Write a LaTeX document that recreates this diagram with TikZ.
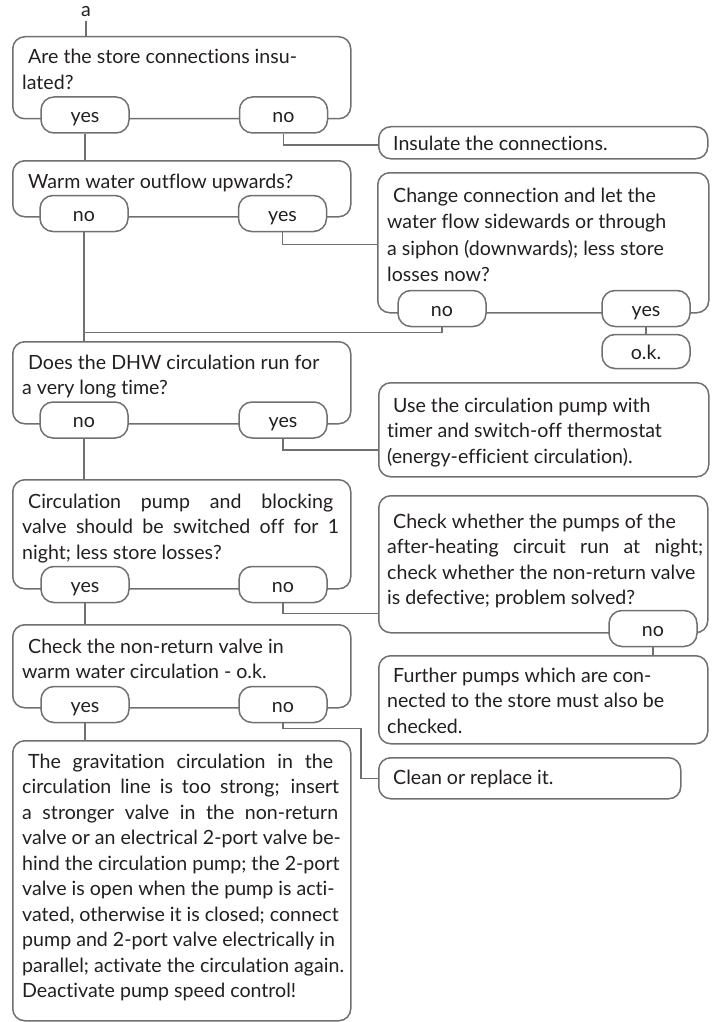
\documentclass[tikz,border=0pt]{standalone}
\usepackage{fontspec}
\setmainfont{Lato}[Ligatures={NoCommon}]
\definecolor{linegray}{RGB}{112,112,112}
\definecolor{textdark}{RGB}{35,31,32}
\newcommand{\jl}[2][318pt]{\makebox[#1][s]{#2}}
\newcommand{\ind}{\hspace*{6pt}}
\tikzset{
  box/.style={draw=linegray, line width=1.5pt, rounded corners=12pt, fill=white, inner sep=0pt, anchor=north west},
  pill/.style={draw=linegray, line width=1.5pt, rounded corners=13pt, fill=white, inner sep=0pt,
    minimum width=88pt, minimum height=36pt, text height=15pt, text depth=0pt, text=textdark,
    font=\fontsize{19.6}{25.5}\selectfont},
  txt/.style={inner sep=0pt, anchor=base west, text=textdark, font=\fontsize{19.6}{25.5}\selectfont},
  conn/.style={draw=linegray, line width=1.5pt}
}
\begin{document}
\begin{tikzpicture}[x=1pt,y=-1pt]
\useasboundingbox (0,0) rectangle (713,1022);
% boxes
\node[box, minimum width=338pt, minimum height=82pt] (b1) at (12,36) {};
\node[box, minimum width=338pt, minimum height=56pt] (b2) at (12,160) {};
\node[box, minimum width=338pt, minimum height=82pt] (b3) at (12,341) {};
\node[box, minimum width=338pt, minimum height=109pt] (b4) at (12,479) {};
\node[box, minimum width=338pt, minimum height=83pt] (b5) at (12,624) {};
\node[box, minimum width=338pt, minimum height=280pt] (b6) at (12,740) {};
\node[box, minimum width=329pt, minimum height=32pt] (ins) at (378,126) {};
\node[box, minimum width=331pt, minimum height=140pt] (chg) at (377,172) {};
\node[box, minimum width=330pt, minimum height=94pt] (use) at (378,382) {};
\node[box, minimum width=329pt, minimum height=137pt] (chk) at (378,495) {};
\node[box, minimum width=329pt, minimum height=88pt] (fur) at (378,655) {};
\node[box, minimum width=302pt, minimum height=41pt] (cln) at (378,757) {};
% texts
\node[txt, anchor=center] (a) at (86,12) {a};
\node[txt] (t1) at (22,64) {\parbox[t]{420pt}{\ind Are the store connections insu-\\lated?}};
\node[txt] (t2) at (22,188) {\parbox[t]{420pt}{\ind Warm water outflow upwards?}};
\node[txt] (t3) at (22,369) {\parbox[t]{420pt}{\ind Does the DHW circulation run for\\a very long time?}};
\node[txt] (t4) at (22,508) {\parbox[t]{420pt}{\jl[311pt]{\ind Circulation pump and blocking}\\\jl[317pt]{valve should be switched off for 1}\\night; less store losses?}};
\node[txt] (t5) at (22,653) {\parbox[t]{420pt}{\ind Check the non-return valve in\\warm water circulation - o.k.}};
\node[txt] (t6) at (22,768) {\parbox[t]{420pt}{\jl[311pt]{\ind The gravitation circulation in the}\\\jl[317pt]{circulation line is too strong; insert}\\\jl[316pt]{a stronger valve in the non-return}\\valve or an electrical 2-port valve be-\\hind the circulation pump; the 2-port\\valve is open when the pump is acti-\\vated, otherwise it is closed; connect\\pump and 2-port valve electrically in\\parallel; activate the circulation again.\\Deactivate pump speed control!}};
\node[txt] (tins) at (387,150) {\ind Insulate the connections.};
\node[txt, font=\fontsize{19.6}{26.5}\selectfont] (tchg) at (387,202) {\parbox[t]{420pt}{\ind Change connection and let the\\water flow sidewards or through\\a siphon (downwards); less store\\losses now?}};
\node[txt] (tuse) at (387,412) {\parbox[t]{420pt}{\ind Use the circulation pump with\\timer and switch-off thermostat\\(energy-efficient circulation).}};
\node[txt] (tchk) at (387,528) {\parbox[t]{420pt}{\ind Check whether the pumps of the\\\jl[316pt]{after-heating circuit run at night;}\\check whether the non-return valve\\is defective; problem solved?}};
\node[txt] (tfur) at (387,682) {\parbox[t]{420pt}{\ind Further pumps which are con-\\nected to the store must also be\\checked.}};
\node[txt] (tcln) at (387,784) {\ind Clean or replace it.};
% pills
\node[pill] (p1y) at (85,115) {yes};
\node[pill] (p1n) at (283.5,115) {no};
\node[pill] (p2n) at (84,213.5) {no};
\node[pill] (p2y) at (282.5,213.5) {yes};
\node[pill] (p3n) at (84,420) {no};
\node[pill] (p3y) at (283,420) {yes};
\node[pill] (p4y) at (85,584.5) {yes};
\node[pill] (p4n) at (283,584.5) {no};
\node[pill] (p5y) at (85,704.5) {yes};
\node[pill] (p5n) at (283,704.5) {no};
\node[pill] (pcn) at (442,308.5) {no};
\node[pill] (pcy) at (646,308.5) {yes};
\node[pill, minimum height=34pt] (pok) at (646,351.5) {o.k.};
\node[pill] (pkn) at (653,628.5) {no};
% connectors
\draw[conn] (a.south) ++(0,4) -- (a.south |- b1.north);
\draw[conn] (p1y.south) -- (p1y.south |- b2.north);
\draw[conn] (p1n.south) -- ++(0,11) coordinate (k1) -- (k1 -| ins.west);
\draw[conn] (p2y.south) -- ++(0,12) coordinate (k2) -- (k2 -| chg.west);
\draw[conn] (p2n.south) -- (p2n.south |- b3.north);
\draw[conn] (pcn.south) -- ++(0,5) coordinate (kc) -- (kc -| p2n.south);
\draw[conn] (pcy.south) -- (pok.north);
\draw[conn] (p3n.south) -- (p3n.south |- b4.north);
\draw[conn] (p3y.south) -- ++(0,11) coordinate (k3) -- (k3 -| use.west);
\draw[conn] (p4y.south) -- (p4y.south |- b5.north);
\draw[conn] (p4n.south) -- ++(0,10) coordinate (k4) -- (k4 -| chk.west);
\draw[conn] (pkn.south) -- (pkn.south |- fur.north);
\draw[conn] (p5y.south) -- (p5y.south |- b6.north);
\draw[conn] (p5n.south) -- ++(0,5) -- ++(78,0) |- (cln.west);
\end{tikzpicture}
\end{document}
